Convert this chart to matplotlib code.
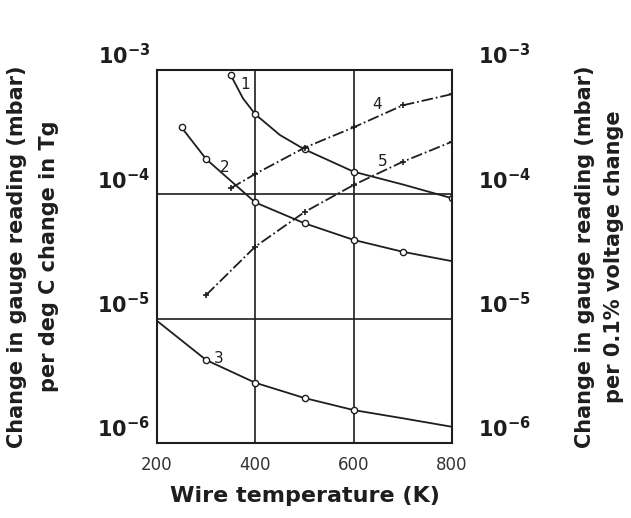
import matplotlib
matplotlib.use("Agg")
import matplotlib.pyplot as plt
import matplotlib.transforms as mtransforms

# data (wire temperature K, gauge reading change mbar)
t1 = [350, 375, 400, 450, 500, 600, 700, 800]
c1 = [9.1e-4, 5.9e-4, 4.4e-4, 3.0e-4, 2.3e-4, 1.52e-4, 1.2e-4, 9.3e-5]
m1 = [0, 2, 4, 5, 7]          # points drawn with a marker
t2 = [250, 300, 400, 500, 600, 700, 800]
c2 = [3.45e-4, 1.92e-4, 8.6e-5, 5.85e-5, 4.3e-5, 3.45e-5, 2.9e-5]
m2 = [0, 1, 2, 3, 4, 5]
t3 = [200, 300, 400, 500, 600, 700, 800]
c3 = [9.6e-6, 4.65e-6, 3.05e-6, 2.3e-6, 1.84e-6, 1.58e-6, 1.35e-6]
m3 = [1, 2, 3, 4]
# voltage curves (right axis)
t4 = [350, 400, 500, 600, 700, 800]
c4 = [1.12e-4, 1.46e-4, 2.37e-4, 3.46e-4, 5.2e-4, 6.4e-4]
t5 = [300, 400, 500, 600, 700, 800]
c5 = [1.55e-5, 3.8e-5, 7.2e-5, 1.19e-4, 1.83e-4, 2.65e-4]

xticks = [200, 400, 600, 800]
yticks = [1e-6, 1e-5, 1e-4, 1e-3]
ylabels = [r'$\mathbf{10^{-6}}$', r'$\mathbf{10^{-5}}$', r'$\mathbf{10^{-4}}$', r'$\mathbf{10^{-3}}$']
curve_labels = [('1', 380, 7.6e-4), ('2', 338, 1.65e-4), ('3', 325, 4.8e-6),
                ('4', 648, 5.3e-4), ('5', 660, 1.85e-4)]

ink = '#1e1e1e'

fig = plt.figure(figsize=(6.31, 5.18), dpi=100)
ax = fig.add_axes([157/631, 1 - 443/518, 295/631, 373/518])
ax.set_yscale('log')
ax.set_xlim(200, 800)
ax.set_ylim(1e-6, 1e-3)

circ = dict(color=ink, lw=1.3, marker='o', ms=4.5, mfc='white', mec=ink, mew=1.0)
ax.plot(t1, c1, '-', markevery=m1, **circ)
ax.plot(t2, c2, '-', markevery=m2, **circ)
ax.plot(t3, c3, '-', markevery=m3, **circ)
ax.plot(t4, c4, '-.', color=ink, lw=1.3, marker='+', ms=5, mew=1.2)
ax.plot(t5, c5, '-.', color=ink, lw=1.3, marker='+', ms=5, mew=1.2)

for txt, x, y in curve_labels:
    ax.text(x, y, txt, fontsize=11, color=ink, ha='center', va='center')

ax.grid(True, which='major', color=ink, lw=1.2)
ax.minorticks_off()
for s in ax.spines.values():
    s.set_color(ink)
    s.set_linewidth(1.5)

ax.set_xticks(xticks)
ax.set_xticklabels([str(v) for v in xticks])
ax.tick_params(axis='x', length=0, pad=9, labelsize=12, labelcolor='#333333')
ax.set_yticks(yticks)
ax.set_yticklabels(ylabels)
ax.tick_params(axis='y', length=0, pad=5, labelsize=15, labelcolor=ink)
ax.set_xlabel('Wire temperature (K)', fontsize=16, fontweight='bold', color=ink, labelpad=9)

ax2 = ax.twinx()
ax2.set_yscale('log')
ax2.set_ylim(1e-6, 1e-3)
ax2.minorticks_off()
ax2.set_yticks(yticks)
ax2.set_yticklabels(ylabels)
ax2.tick_params(axis='y', length=0, pad=19, labelsize=15, labelcolor=ink)
for s in ax2.spines.values():
    s.set_visible(False)

# shift decade labels up so "10" sits just above the gridline
off = mtransforms.ScaledTranslation(0, 4/72, fig.dpi_scale_trans)
for lbl in ax.get_yticklabels() + ax2.get_yticklabels():
    lbl.set_va('baseline')
    lbl.set_transform(lbl.get_transform() + off)

ax.set_ylabel('Change in gauge reading (mbar)\nper deg C change in Tg', fontsize=15,
              fontweight='bold', color=ink, linespacing=1.75, va='center', ha='center')
ax.yaxis.set_label_coords(-0.42, 0.5)
ax2.set_ylabel('Change in gauge reading (mbar)\nper 0.1% voltage change', fontsize=15,
               fontweight='bold', color=ink, linespacing=1.55, va='center', ha='center',
               rotation=90)
ax2.yaxis.set_label_coords(1.5, 0.5)

fig.savefig('out.png', dpi=100, facecolor='white')
